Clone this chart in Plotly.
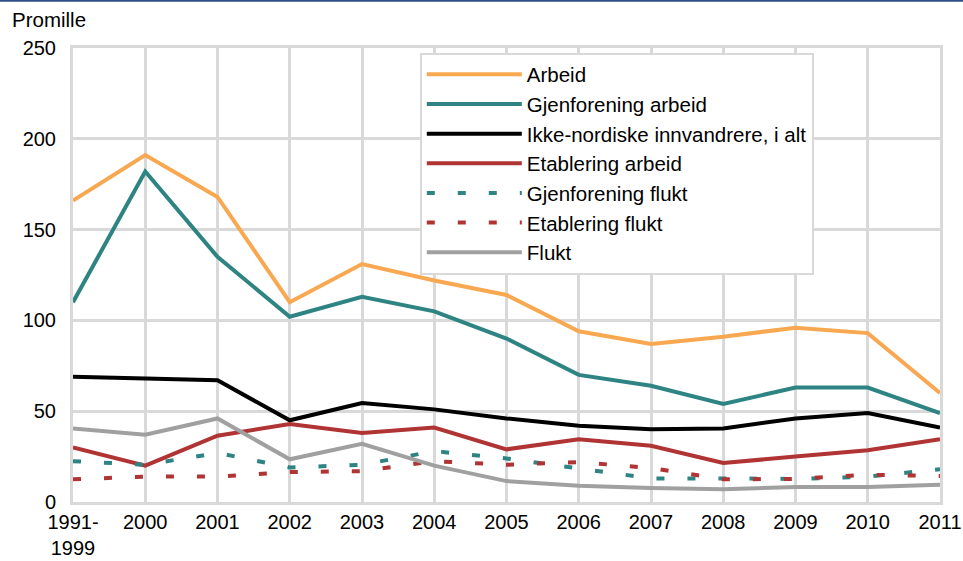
import plotly.graph_objects as go

# Categories on the x axis
years = ['1991-<br>1999', '2000', '2001', '2002', '2003', '2004', '2005',
         '2006', '2007', '2008', '2009', '2010', '2011']

# Series values (promille)
arbeid = [166, 191, 168, 110, 131, 122, 114, 94, 87, 91, 96, 93, 60]
gjenforening_arbeid = [110, 182, 135, 102, 113, 105, 90, 70, 64, 54, 63, 63, 49]
ikke_nordiske = [69, 68, 67, 45, 54.5, 51, 46, 42, 40, 40.5, 46, 49, 41]
etablering_arbeid = [30, 20, 36.5, 43, 38, 41, 29, 34.5, 31, 21.5, 25, 28.5, 34.5]
gjenforening_flukt = [22.5, 20.5, 27, 19, 20.5, 28, 24, 18.5, 13, 13, 12.7, 14, 18]
etablering_flukt = [12.5, 14, 14, 16.5, 17, 22.5, 20.5, 22, 18.7, 12.5, 12.7, 15, 14.3]
flukt = [40.5, 37, 46, 23.5, 32, 20, 11.5, 9, 7.7, 7, 8.2, 8.3, 9.5]

series = [
    ('Arbeid', arbeid, '#F9A852', 'solid'),
    ('Gjenforening arbeid', gjenforening_arbeid, '#2E8482', 'solid'),
    ('Ikke-nordiske innvandrere, i alt', ikke_nordiske, '#000000', 'solid'),
    ('Etablering arbeid', etablering_arbeid, '#B03434', 'solid'),
    ('Gjenforening flukt', gjenforening_flukt, '#2E8482', '8px,23px'),
    ('Etablering flukt', etablering_flukt, '#B03434', '8px,23px'),
    ('Flukt', flukt, '#A0A0A0', 'solid'),
]

fig = go.Figure()
for i, (name, vals, color, dash) in enumerate(series):
    fig.add_trace(go.Scatter(x=years, y=vals, name=name, mode='lines',
                             line=dict(color=color, width=4, dash=dash),
                             legendgroup=str(i)))

grid = '#D9D9D9'
fig.update_layout(
    width=963, height=561,
    paper_bgcolor='white', plot_bgcolor='white',
    margin=dict(l=73, r=23, t=48, b=59),
    font=dict(family='Liberation Sans, Arial, sans-serif', size=20, color='#000000'),
    showlegend=True,
    legend=dict(x=0.40, y=0.99, xanchor='left', yanchor='top',
                bgcolor='white', bordercolor=grid, borderwidth=2,
                tracegroupgap=0, itemwidth=95, font=dict(size=20.5)),
    annotations=[dict(text='Promille', xref='paper', yref='paper',
                      x=-0.0725, y=1.062, xanchor='left', yanchor='middle',
                      showarrow=False, font=dict(size=20.5))],
    shapes=[dict(type='line', xref='paper', yref='paper',
                 x0=-0.2, x1=1.2, y0=1.104, y1=1.104,
                 line=dict(color='#2F4F86', width=2))],
)
fig.update_xaxes(type='category', range=[0, 12], showgrid=True, gridcolor=grid,
                 gridwidth=3, showline=True, linecolor=grid, linewidth=3,
                 mirror=True, ticks='', automargin=False, tickfont=dict(size=20))
fig.update_yaxes(range=[0, 250], dtick=50, showgrid=True, gridcolor=grid,
                 gridwidth=3, showline=True, linecolor=grid, linewidth=3,
                 mirror=True, ticks='', zeroline=False, automargin=False,
                 ticklabelstandoff=10, tickfont=dict(size=20))

# the page has an 8px default body margin; drop it so the figure sits at 0,0
fig.write_html("out.html", config={'displayModeBar': False},
               post_script="document.body.style.margin='0px';")
